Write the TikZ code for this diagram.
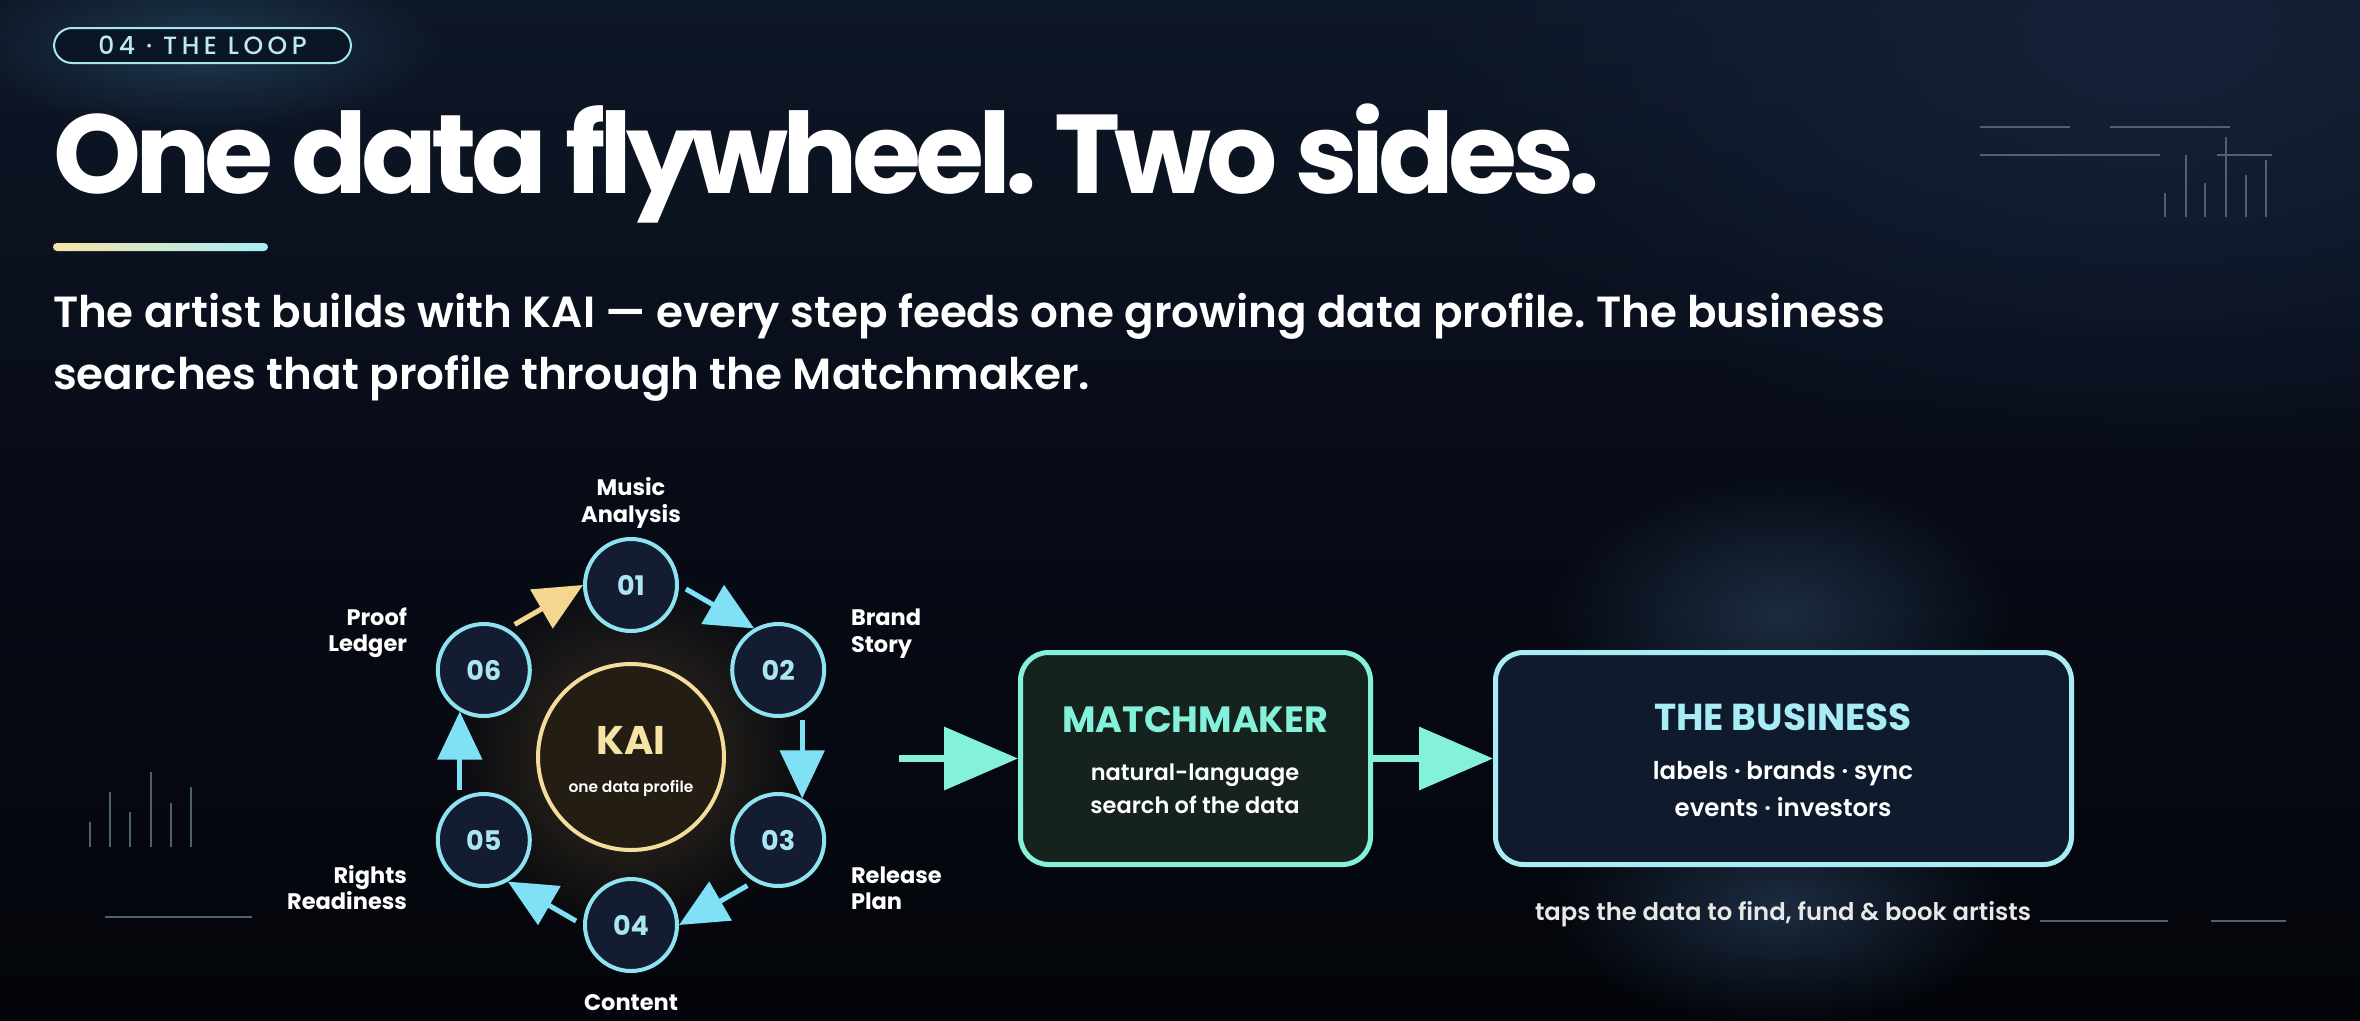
\documentclass[tikz,border=0pt]{standalone}
\usepackage{fontspec}
\setmainfont{Poppins}
\newfontfamily\popB{Poppins Bold}
\newfontfamily\popBt{Poppins Bold}[LetterSpace=-5.3]
\newfontfamily\popSB{Poppins SemiBold}
\newfontfamily\popM{Poppins Medium}
\newfontfamily\popMsp{Poppins Medium}[LetterSpace=18]
\usetikzlibrary{arrows.meta,fadings}
\frenchspacing

\definecolor{bgtop}{HTML}{0E1727}
\definecolor{bgmid}{HTML}{070B16}
\definecolor{bgbot}{HTML}{03050A}
\definecolor{glowtr}{HTML}{16223A}
\definecolor{glowpill}{HTML}{1E3A50}
\definecolor{glowbiz}{HTML}{1C2C40}
\definecolor{glowkai}{HTML}{3A3020}
\definecolor{pillc}{HTML}{A8E6F0}
\definecolor{pillfill}{HTML}{0B1625}
\definecolor{pilltext}{HTML}{BFE9F1}
\definecolor{baryel}{HTML}{F6E4A6}
\definecolor{barcyan}{HTML}{A6EEF8}
\definecolor{ringc}{HTML}{8FE3F0}
\definecolor{nodefill}{HTML}{131C31}
\definecolor{numc}{HTML}{A9E6F2}
\definecolor{arrc}{HTML}{80E0F5}
\definecolor{arry}{HTML}{F5D68E}
\definecolor{kaiborder}{HTML}{F3DC9C}
\definecolor{kaifill}{HTML}{231D13}
\definecolor{kaitext}{HTML}{F6E3A6}
\definecolor{mint}{HTML}{84F2DA}
\definecolor{mmfill}{HTML}{15221E}
\definecolor{bizc}{HTML}{A8ECF6}
\definecolor{bizfill}{HTML}{0F1A2C}
\definecolor{capc}{HTML}{E8E8E8}
\definecolor{decorc}{HTML}{4D6270}

\tikzfading[name=glowfade, inner color=transparent!0, outer color=transparent!100]

\tikzset{
  txt/.style={inner sep=0pt, outer sep=0pt},
  steplabel/.style={txt, text=white, font=\popB\fontsize{22.5}{22.5}\selectfont},
  stepnode/.style={circle, draw=ringc, line width=4pt, fill=nodefill, minimum size=92pt, inner sep=0pt, text=numc, font=\popB\fontsize{27}{27}\selectfont},
  ringarrow/.style={draw=arrc, line width=5pt, -{Triangle[length=48pt,width=44pt]}, shorten <=8pt},
  bigarrow/.style={draw=mint, line width=7pt, -{Triangle[length=74pt,width=62pt]}},
  decor/.style={draw=decorc, line width=2.2pt},
  boxbody/.style={txt, text=white, font=\popSB\fontsize{22.5}{22.5}\selectfont},
}

\begin{document}
\begin{tikzpicture}[x=1pt,y=-1pt]
\useasboundingbox (0,0) rectangle (2360,1020);
% background
\shade[top color=bgtop, bottom color=bgbot, middle color=bgmid] (0,0) rectangle (2360,1020);
\fill[glowtr, path fading=glowfade] (2150,40) ellipse [x radius=750pt, y radius=420pt];
\fill[glowpill, path fading=glowfade] (202,46) ellipse [x radius=240pt, y radius=85pt];
\fill[glowbiz, path fading=glowfade] (1780,615) ellipse [x radius=230pt, y radius=140pt];
\fill[glowbiz, path fading=glowfade] (1780,905) ellipse [x radius=230pt, y radius=120pt];
\fill[glowkai, path fading=glowfade] (631,757) circle (190pt);

% decorations
\draw[decor] (1980,127) -- (2070,127);
\draw[decor] (2110,127) -- (2230,127);
\draw[decor] (1980,155) -- (2160,155);
\draw[decor] (2217,155) -- (2272,155);
\draw[decor] (2165,193) -- (2165,217);
\draw[decor] (2186,155) -- (2186,217);
\draw[decor] (2205,183) -- (2205,217);
\draw[decor] (2226,137) -- (2226,217);
\draw[decor] (2246,175) -- (2246,217);
\draw[decor] (2266,160) -- (2266,217);
\draw[decor] (90,822) -- (90,847);
\draw[decor] (110,792) -- (110,847);
\draw[decor] (130,812) -- (130,847);
\draw[decor] (151,772) -- (151,847);
\draw[decor] (171,803) -- (171,847);
\draw[decor] (191,787) -- (191,847);
\draw[decor] (105,917) -- (252,917);
\draw[decor] (2040,921) -- (2168,921);
\draw[decor] (2211,921) -- (2286,921);

% header
\node[draw=pillc, line width=2pt, fill=pillfill, rounded corners=18pt, minimum width=297pt, minimum height=35pt, inner sep=0pt, text=pilltext, font=\popMsp\fontsize{25}{25}\selectfont] (tag) at (202.5,45.5) {04 · THE LOOP};
\node[txt, anchor=base west, text=white, font=\popBt\fontsize{112}{112}\selectfont] (title) at (53,193) {One data flywheel. Two sides.};
\shade[left color=baryel, right color=barcyan, rounded corners=4pt] (53,243) rectangle (268,251);
\node[txt, anchor=base west, text=white, font=\popSB\fontsize{43.6}{43.6}\selectfont] (sub1) at (53,327) {The artist builds with KAI — every step feeds one growing data profile. The business};
\node[txt, anchor=base west, text=white, font=\popSB\fontsize{43.6}{43.6}\selectfont] (sub2) at (53,389) {searches that profile through the Matchmaker.};

% KAI hub
\node[circle, draw=kaiborder, line width=4pt, fill=kaifill, minimum size=186pt, inner sep=0pt] (kai) at (631,757) {};
\node[txt, anchor=base, text=kaitext, font=\popB\fontsize{40}{40}\selectfont] (kaiT) at (631,754) {KAI};
\node[txt, anchor=base, text=white, font=\popSB\fontsize{15.5}{15.5}\selectfont] (kaiS) at (631,792) {one data profile};

% steps
\node[stepnode] (n1) at (631,585) {01};
\node[stepnode] (n2) at (778.2,670) {02};
\node[stepnode] (n3) at (778.2,840) {03};
\node[stepnode] (n4) at (631,925) {04};
\node[stepnode] (n5) at (483.8,840) {05};
\node[stepnode] (n6) at (483.8,670) {06};

\draw[ringarrow] (n1.0) -- (n2.120);
\draw[ringarrow] (n2.-60) -- (n3.60);
\draw[ringarrow] (n3.-120) -- (n4.0);
\draw[ringarrow] (n4.180) -- (n5.-60);
\draw[ringarrow] (n5.120) -- (n6.-120);
\draw[ringarrow, draw=arry] (n6.60) -- (n1.180);

% step labels
\node[steplabel, anchor=base] (l1a) at (631,495) {Music};
\node[steplabel, anchor=base] (l1b) at (631,522) {Analysis};
\node[steplabel, anchor=base west] (l2a) at (851,625) {Brand};
\node[steplabel, anchor=base west] (l2b) at (851,652) {Story};
\node[steplabel, anchor=base west] (l3a) at (851,883) {Release};
\node[steplabel, anchor=base west] (l3b) at (851,909) {Plan};
\node[steplabel, anchor=base] (l4) at (631,1010) {Content};
\node[steplabel, anchor=base east] (l5a) at (407,883) {Rights};
\node[steplabel, anchor=base east] (l5b) at (407,909) {Readiness};
\node[steplabel, anchor=base east] (l6a) at (407,625) {Proof};
\node[steplabel, anchor=base east] (l6b) at (407,651) {Ledger};

% boxes
\node[draw=mint, line width=5pt, fill=mmfill, rounded corners=28pt, minimum width=350pt, minimum height=212pt, inner sep=0pt] (mm) at (1195.5,758.5) {};
\node[draw=bizc, line width=5pt, fill=bizfill, rounded corners=28pt, minimum width=576pt, minimum height=212pt, inner sep=0pt] (biz) at (1783.5,758.5) {};

\node[txt, anchor=base, text=mint, font=\popB\fontsize{36.5}{36.5}\selectfont] (mmT) at (1195,732) {MATCHMAKER};
\node[boxbody, anchor=base] (mmA) at (1195,780) {natural-language};
\node[boxbody, anchor=base] (mmB) at (1195,813) {search of the data};

\node[txt, anchor=base, text=bizc, font=\popB\fontsize{37.5}{37.5}\selectfont] (bizT) at (1783,730) {THE BUSINESS};
\node[boxbody, anchor=base, font=\popSB\fontsize{24.5}{24.5}\selectfont] (bizA) at (1783,779) {labels · brands · sync};
\node[boxbody, anchor=base, font=\popSB\fontsize{24.5}{24.5}\selectfont] (bizB) at (1783,816) {events · investors};

\node[txt, anchor=base, text=capc, font=\popSB\fontsize{24.3}{24.3}\selectfont] (cap) at (1783,920) {taps the data to find, fund \& book artists};

% flow arrows
\coordinate (flowin) at (899,758.5);
\draw[bigarrow] (flowin) -- (mm.west);
\draw[bigarrow] (mm.east) -- (biz.west);
\end{tikzpicture}
\end{document}
